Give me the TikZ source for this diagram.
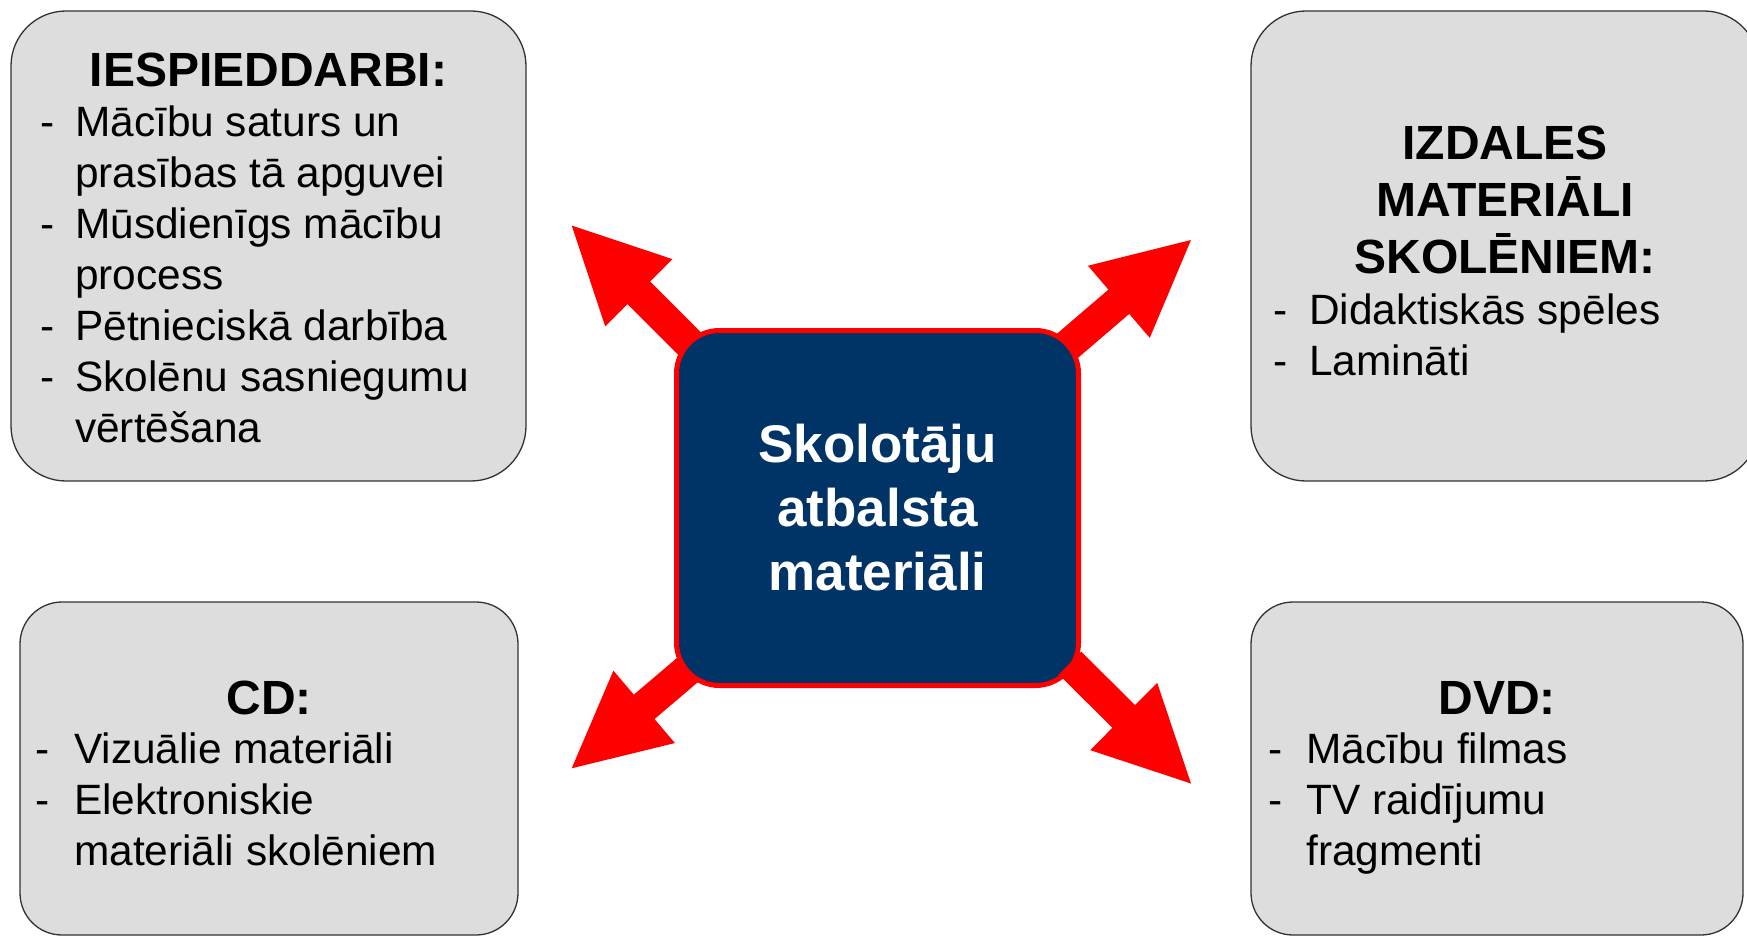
\documentclass[tikz,border=0pt]{standalone}
\usepackage{fontspec}
\setmainfont{Liberation Sans}
\usetikzlibrary{calc}
\definecolor{boxgray}{RGB}{221,221,221}
\definecolor{boxline}{RGB}{50,50,50}
\definecolor{navyfill}{RGB}{0,51,102}
\definecolor{arrowred}{RGB}{255,0,0}
\newcommand\bodyfnt{\fontsize{42.4pt}{51pt}\selectfont}
\newcommand\titlefnt{\fontsize{48pt}{57pt}\selectfont\bfseries}
\newcommand\litem[2]{\par\hangindent=#1\hangafter=1\noindent\makebox[#1][l]{-}#2}
\newcommand\fatarrow[3]{%
  \coordinate (#1b) at ($(#3)!95pt!(#2)$);
  \fill[arrowred] ($(#2)!16pt!90:(#3)$) -- ($(#1b)!16pt!90:(#3)$) -- ($(#1b)!47.5pt!90:(#3)$) -- (#3)
    -- ($(#1b)!47.5pt!-90:(#3)$) -- ($(#1b)!16pt!-90:(#3)$) -- ($(#2)!16pt!-90:(#3)$) -- cycle;}
\tikzset{
  graybox/.style={draw=boxline, line width=1.3pt, fill=boxgray, inner sep=0pt},
  centerbox/.style={draw=arrowred, line width=5pt, fill=navyfill, rounded corners=43pt,
    minimum width=402pt, minimum height=355pt, text=white, align=center,
    font=\fontsize{53pt}{64pt}\selectfont\bfseries},
  listtext/.style={anchor=base west, inner sep=0pt},
  titletext/.style={anchor=base, inner sep=0pt}
}
\begin{document}
\begin{tikzpicture}[x=1pt,y=-1pt]
\useasboundingbox (0,0) rectangle (1747,936);
\clip (0,0) rectangle (1747,936);
\fill[white] (0,0) rectangle (1747,936);
% gray boxes
\node[graybox, rounded corners=55pt, minimum width=515pt, minimum height=470pt] (tlBox) at (268.5,246) {};
\node[graybox, rounded corners=55pt, minimum width=508pt, minimum height=470pt] (trBox) at (1505,246) {};
\node[graybox, rounded corners=42pt, minimum width=498pt, minimum height=333pt] (blBox) at (269,768.5) {};
\node[graybox, rounded corners=42pt, minimum width=492pt, minimum height=333pt] (brBox) at (1497,768.5) {};
% texts
\node[titletext] (tlTitle) at (268.5,87) {\titlefnt IESPIEDDARBI:};
\node[listtext] (tlList) at (40,137) {\parbox[t]{480pt}{\bodyfnt
  \litem{35pt}{Mācību saturs un\\prasības tā apguvei}
  \litem{35pt}{Mūsdienīgs mācību\\process}
  \litem{35pt}{Pētnieciskā darbība}
  \litem{35pt}{Skolēnu sasniegumu\\vērtēšana}}};
\node[titletext] (trTitle) at (1505,160) {\parbox[t]{480pt}{\centering\titlefnt IZDALES\\MATERIĀLI\\SKOLĒNIEM:}};
\node[listtext] (trList) at (1273,324) {\parbox[t]{470pt}{\bodyfnt
  \litem{36pt}{Didaktiskās spēles}
  \litem{36pt}{Lamināti}}};
\node[titletext] (blTitle) at (269,714) {\titlefnt CD:};
\node[listtext] (blList) at (35,763) {\parbox[t]{470pt}{\bodyfnt
  \litem{39pt}{Vizuālie materiāli}
  \litem{39pt}{Elektroniskie\\materiāli skolēniem}}};
\node[titletext] (brTitle) at (1497,714) {\titlefnt DVD:};
\node[listtext] (brList) at (1268,763) {\parbox[t]{470pt}{\bodyfnt
  \litem{38pt}{Mācību filmas}
  \litem{38pt}{TV raidījumu\\fragmenti}}};
% arrows
\coordinate (ulS) at (717,371);  \coordinate (ulT) at (571.7,225.5);
\coordinate (urS) at (1038,371); \coordinate (urT) at (1191,240);
\coordinate (llS) at (717,645);  \coordinate (llT) at (571.7,768.3);
\coordinate (lrS) at (1070,663); \coordinate (lrT) at (1191,783.5);
\fatarrow{ul}{ulS}{ulT}
\fatarrow{ur}{urS}{urT}
\fatarrow{ll}{llS}{llT}
% center
\node[centerbox] (center) at (877.5,508) {Skolotāju\\atbalsta\\materiāli};
\fatarrow{lr}{lrS}{lrT}
\end{tikzpicture}
\end{document}
